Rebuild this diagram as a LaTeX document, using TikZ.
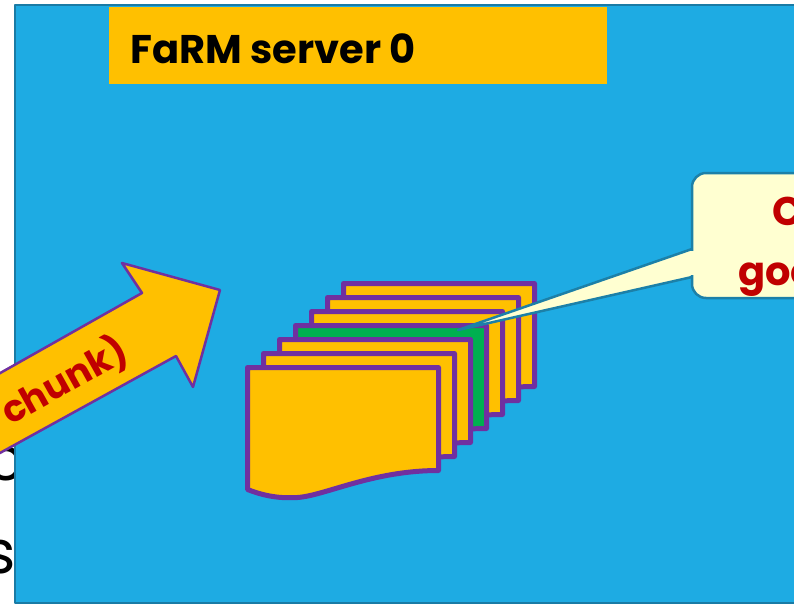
\documentclass[tikz,border=0pt]{standalone}
\usepackage{fontspec}
\setmainfont{Poppins}
\usetikzlibrary{positioning}
\definecolor{serverblue}{HTML}{1EABE3}
\definecolor{serveredge}{HTML}{1A7BA5}
\definecolor{pageorange}{HTML}{FFC000}
\definecolor{pagepurple}{HTML}{7030A0}
\definecolor{pagegreen}{HTML}{00B050}
\definecolor{labelred}{HTML}{C00000}
\definecolor{noteyellow}{HTML}{FFFFD1}
\definecolor{noteedge}{HTML}{1C80A8}

\begin{document}
\begin{tikzpicture}[x=1pt,y=-1pt,line join=round]
 \tikzstyle{server box}=[fill=serverblue,draw=serveredge,line width=2pt]
 \tikzstyle{page shape}=[draw=pagepurple,line width=5pt]
 \tikzstyle{note shape}=[fill=noteyellow,draw=noteedge,line width=2.5pt]
 \tikzset{
 	title text/.style={font=\bfseries\fontsize{40}{48}\selectfont,inner sep=0,anchor=base west},
 	back text/.style={font=\fontsize{60}{72}\selectfont,inner sep=0,anchor=base east},
 	note text/.style={font=\bfseries\fontsize{40}{48}\selectfont,text=labelred,inner sep=0,anchor=base west},
 	arrow text/.style={font=\bfseries\fontsize{37}{44}\selectfont,text=labelred,inner sep=0},
 	big arrow/.style={fill=pageorange,draw=pagepurple,line width=2.5pt}
 }
 \useasboundingbox (0,0) rectangle (794,605);

 % slide text behind the server
 \node[back text] (t1) at (24,480) {nc};
 \node[back text] (t2) at (16,573) {s};

 % server and its title
 \draw[server box] (15,5) rectangle (830,603);
 \fill[pageorange] (109,7) rectangle (607,84);
 \node[title text] (title) at (130,63) {FaRM server 0};

 % stack of pages, back to front
 \foreach \i/\c in {6/pageorange,5/pageorange,4/pageorange,3/pagegreen,2/pageorange,1/pageorange,0/pageorange}
   \draw[page shape,fill=\c,shift={(16*\i,-14*\i)}]
     (247.5,367.5) -- (438.5,367.5) -- (438.5,470.5)
     .. controls (372.5,470.5) and (325.5,495.5) .. (297.5,497.5)
     .. controls (280.5,498.5) and (265.5,496.5) .. (247.5,489.5) -- cycle;

 % callout
 \filldraw[note shape] (692,249) -- (458,330) -- (692,277) -- cycle;
 \filldraw[note shape,rounded corners=14pt] (692,173) rectangle (840,298);
 \fill[noteyellow] (690,251) rectangle (695,275);
 \node[note text] (n1) at (772,225) {C};
 \node[note text] (n2) at (738,285) {goo};

 % arrow into the server
 \draw[big arrow] (-60,407) -- (142,293) -- (122,263) -- (220,290) -- (193,387) -- (176,356) -- (-60,486) -- cycle;
 \node[arrow text,rotate=29.2] (lbl) at (64,381) {chunk)};
\end{tikzpicture}
\end{document}
